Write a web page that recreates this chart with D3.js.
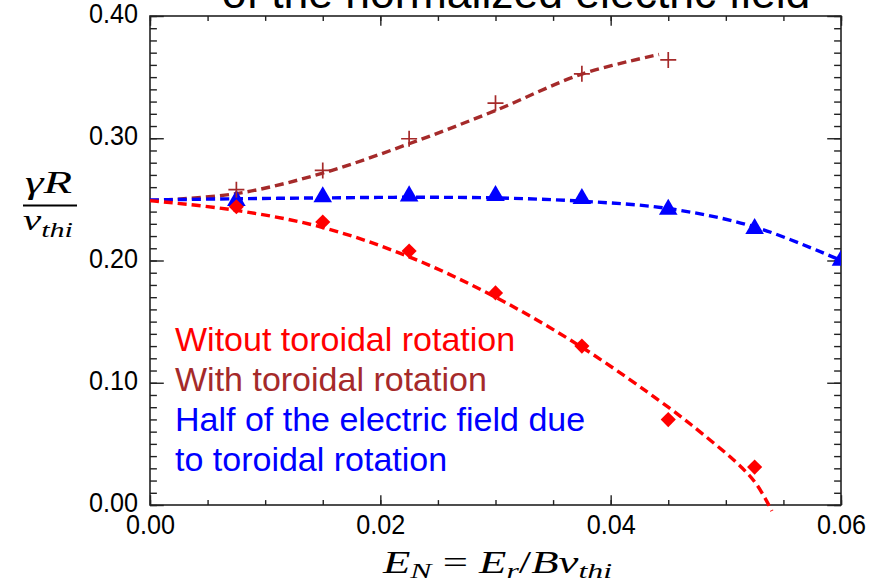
<!DOCTYPE html>
<html><head><meta charset="utf-8">
<script src="https://cdn.jsdelivr.net/npm/d3@7/dist/d3.min.js"></script>
<style>
body{margin:0;background:#fff;}
svg{display:block;}
text{font-family:"Liberation Sans",Arial,Helvetica,sans-serif;}
.math{font-family:"Liberation Serif","Times New Roman",serif;font-style:italic;}
</style></head>
<body><svg id="chart" width="887" height="584"></svg>
<script>
// ---- data ----
const titleText = "of the normalized electric field";
const xTickValues = [0, 0.02, 0.04, 0.06];
const xTickLabels = ["0.00", "0.02", "0.04", "0.06"];
const yTickValues = [0, 0.1, 0.2, 0.3, 0.4];
const yTickLabels = ["0.00", "0.10", "0.20", "0.30", "0.40"];

// simulation points
const redX = [0.0075, 0.015, 0.0225, 0.03, 0.0375, 0.045, 0.0525];
const redY = [0.244, 0.2315, 0.2078, 0.1735, 0.130, 0.0699, 0.031];
const brownX = [0.0075, 0.015, 0.0225, 0.03, 0.0375, 0.045];
const brownY = [0.2579, 0.2737, 0.2996, 0.3287, 0.3527, 0.3641];
const blueX = [0.0075, 0.015, 0.0225, 0.03, 0.0375, 0.045, 0.0525, 0.06];
const blueY = [0.249, 0.252, 0.2527, 0.253, 0.2506, 0.2418, 0.226, 0.200];

// fitted dashed curves
const redFitX = [0, 0.0075, 0.015, 0.0225, 0.03, 0.0375, 0.045, 0.048, 0.051, 0.0525, 0.0535, 0.054];
const redFitY = [0.249, 0.241, 0.227, 0.203, 0.170, 0.129, 0.080, 0.058, 0.034, 0.019, 0.004, -0.005];
const brownFitX = [0, 0.0075, 0.015, 0.0225, 0.03, 0.0375, 0.0442];
const brownFitY = [0.249, 0.2547, 0.2715, 0.2955, 0.3227, 0.3525, 0.3685];
const blueFitX = [0, 0.0075, 0.015, 0.0225, 0.03, 0.0375, 0.045, 0.0525, 0.06];
const blueFitY = [0.2495, 0.2505, 0.2512, 0.2517, 0.2512, 0.2485, 0.2425, 0.2275, 0.200];

const legendLines = ["Witout toroidal rotation", "With toroidal rotation", "Half of the electric field due", "to toroidal rotation"];
const legendColors = ["#ff0000", "#a52a2a", "#0000ff", "#0000ff"];

// ---- layout ----
const L = 150, R = 841, T = 16, B = 505;
const svg = d3.select("#chart");
const x = d3.scaleLinear().domain([0, 0.06]).range([L, R]);
const y = d3.scaleLinear().domain([0, 0.4]).range([B, T]);

const RED = "#ff0000", BROWN = "#a52a2a", BLUE = "#0000ff";
const xMajLen = 9.8, xMinLen = 4.9, yMajLen = 13.8, yMinLen = 6.9;
const xMinor = d3.range(0, 0.0601, 0.005);
const yMinor = d3.range(0, 0.401, 0.01);

svg.append("defs").append("clipPath").attr("id", "plotclip")
  .append("rect").attr("x", L).attr("y", T).attr("width", R - L).attr("height", B - T);

// title (partly cut off at the top)
svg.append("text").attr("x", 516).attr("y", 8).attr("text-anchor", "middle")
  .attr("font-size", 44.5).attr("fill", "#000").text(titleText);

// axes via d3
const axG = svg.append("g").attr("class", "axes");
// minor ticks
axG.append("g").attr("transform", `translate(0,${B})`).call(d3.axisBottom(x).tickValues(xMinor).tickFormat("").tickSize(-xMinLen).tickSizeOuter(0));
axG.append("g").attr("transform", `translate(0,${T})`).call(d3.axisTop(x).tickValues(xMinor).tickFormat("").tickSize(-xMinLen).tickSizeOuter(0));
axG.append("g").attr("transform", `translate(${L},0)`).call(d3.axisLeft(y).tickValues(yMinor).tickFormat("").tickSize(-yMinLen).tickSizeOuter(0));
axG.append("g").attr("transform", `translate(${R},0)`).call(d3.axisRight(y).tickValues(yMinor).tickFormat("").tickSize(-yMinLen).tickSizeOuter(0));
// major ticks
const xAx = axG.append("g").attr("transform", `translate(0,${B})`)
  .call(d3.axisBottom(x).tickValues(xTickValues).tickFormat((d, i) => xTickLabels[i]).tickSize(-xMajLen).tickSizeOuter(0).tickPadding(9));
axG.append("g").attr("transform", `translate(0,${T})`)
  .call(d3.axisTop(x).tickValues(xTickValues).tickFormat("").tickSize(-xMajLen).tickSizeOuter(0));
const yAx = axG.append("g").attr("transform", `translate(${L},0)`)
  .call(d3.axisLeft(y).tickValues(yTickValues).tickFormat((d, i) => yTickLabels[i]).tickSize(-yMajLen).tickSizeOuter(0).tickPadding(12));
axG.append("g").attr("transform", `translate(${R},0)`)
  .call(d3.axisRight(y).tickValues(yTickValues).tickFormat("").tickSize(-yMajLen).tickSizeOuter(0));
axG.selectAll(".domain").remove();
axG.selectAll(".tick line").attr("stroke", "#222").attr("stroke-width", 1.4);
axG.selectAll(".tick text").attr("font-size", 28).attr("fill", "#000")
  .attr("font-family", '"Liberation Sans",Arial,Helvetica,sans-serif');
xAx.selectAll(".tick text").attr("transform", "scale(0.9,1)");
yAx.selectAll(".tick text").attr("x", -12 / 0.9).attr("dy", "0.24em").attr("transform", "scale(0.9,1)");
svg.append("rect").attr("x", L).attr("y", T).attr("width", R - L).attr("height", B - T)
  .attr("fill", "none").attr("stroke", "#222").attr("stroke-width", 1.6);

// fitted curves
const line = d3.line().x(d => x(d[0])).y(d => y(d[1])).curve(d3.curveCatmullRom);
function fit(xs, ys, col) {
  svg.append("path").datum(xs.map((v, i) => [v, ys[i]]))
    .attr("d", line).attr("fill", "none").attr("stroke", col)
    .attr("stroke-width", 3.4).attr("stroke-dasharray", "9,5");
}
fit(brownFitX, brownFitY, BROWN);
fit(blueFitX, blueFitY, BLUE);
fit(redFitX, redFitY, RED);

// markers
const mk = svg.append("g").attr("clip-path", "url(#plotclip)");
const tri = d3.symbol().type(d3.symbolTriangle).size(150);
mk.selectAll(".tri").data(blueX.map((v, i) => [v, blueY[i]])).join("path")
  .attr("d", tri).attr("transform", d => `translate(${x(d[0])},${y(d[1])})`).attr("fill", BLUE);
const dia = d3.symbol().type(d3.symbolSquare).size(115);
mk.selectAll(".dia").data(redX.map((v, i) => [v, redY[i]])).join("path")
  .attr("d", dia).attr("transform", d => `translate(${x(d[0])},${y(d[1])}) rotate(45)`).attr("fill", RED);
mk.selectAll(".plus").data(brownX.map((v, i) => [v, brownY[i]])).join("path")
  .attr("d", "M-8,0H8M0,-8V8").attr("transform", d => `translate(${x(d[0])},${y(d[1])})`)
  .attr("stroke", BROWN).attr("stroke-width", 1.7).attr("fill", "none");

// legend text
svg.append("g").selectAll("text").data(legendLines).join("text")
  .attr("x", 175).attr("y", (d, i) => 351 + i * 40)
  .attr("font-size", 34).attr("fill", (d, i) => legendColors[i]).text(d => d);

// y label: gamma R / v_thi
const yl = svg.append("g");
yl.append("text").attr("class", "math").attr("x", 25).attr("y", 193)
  .attr("font-size", 32).attr("textLength", 47).attr("lengthAdjust", "spacingAndGlyphs").text("γR");
yl.append("line").attr("x1", 23).attr("x2", 77).attr("y1", 205.5).attr("y2", 205.5)
  .attr("stroke", "#000").attr("stroke-width", 1.8);
const den = yl.append("text").attr("class", "math").attr("x", 23).attr("y", 230).attr("font-size", 30)
  .attr("textLength", 50).attr("lengthAdjust", "spacingAndGlyphs");
den.append("tspan").text("v");
den.append("tspan").attr("font-size", 22).attr("dy", 7).text("thi");

// x label: E_N = E_r / B v_thi
const xl = svg.append("text").attr("class", "math").attr("x", 383).attr("y", 573)
  .attr("font-size", 31).attr("textLength", 229).attr("lengthAdjust", "spacingAndGlyphs");
xl.append("tspan").text("E");
xl.append("tspan").attr("font-size", 22).attr("dy", 5).text("N");
xl.append("tspan").attr("dy", -5).attr("font-style", "normal").text(" = ");
xl.append("tspan").text("E");
xl.append("tspan").attr("font-size", 22).attr("dy", 5).text("r");
xl.append("tspan").attr("dy", -5).attr("font-style", "normal").text("/");
xl.append("tspan").text("Bv");
xl.append("tspan").attr("font-size", 22).attr("dy", 5).text("thi");
</script></body></html>
